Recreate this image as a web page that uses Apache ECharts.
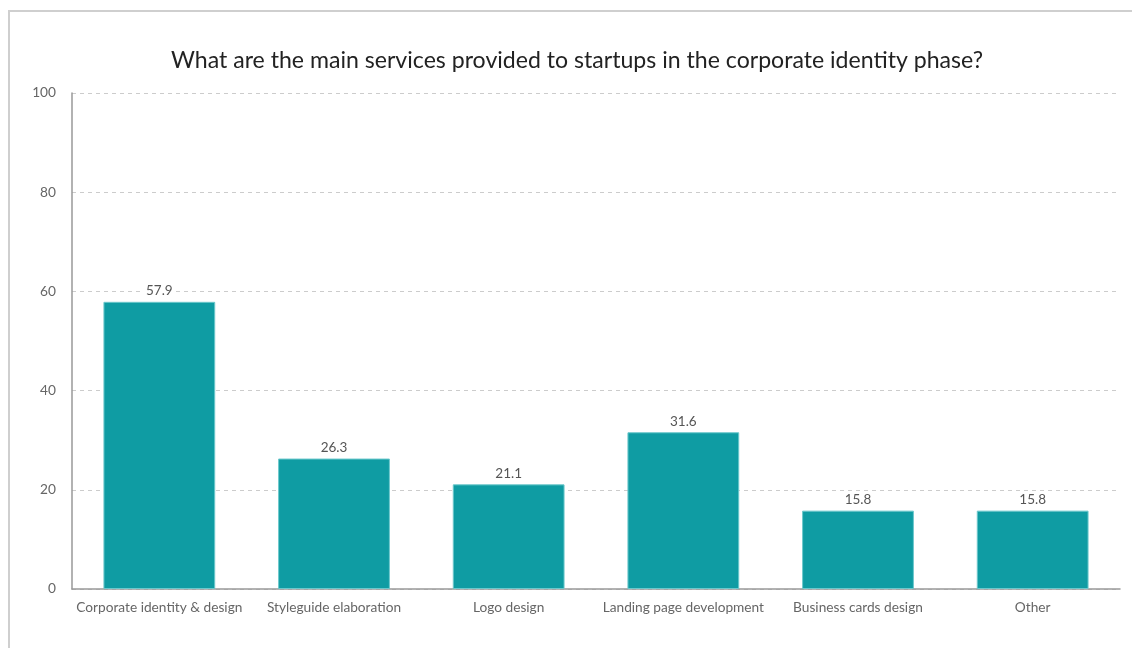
<!DOCTYPE html>
<html>
<head>
<meta charset="utf-8">
<script src="https://cdn.jsdelivr.net/npm/echarts@6/dist/echarts.min.js"></script>
<style>
  html, body { margin: 0; padding: 0; background: #fff; }
  #frame { position: absolute; left: 8px; top: 10px; width: 1140px; height: 660px;
           border: 2px solid #cfcfcf; box-sizing: border-box; }
  #chart { position: absolute; left: 0; top: 0; width: 1132px; height: 648px; }
</style>
</head>
<body>
<div id="frame"></div>
<div id="chart"></div>
<script>
const titleText = 'What are the main services provided to startups in the corporate identity phase?';
const categories = [
  'Corporate identity & design',
  'Styleguide elaboration',
  'Logo design',
  'Landing page development',
  'Business cards design',
  'Other'
];
const shares = [57.9, 26.3, 21.1, 31.6, 15.8, 15.8];
const yTicks = { min: 0, max: 100, step: 20 };

const chart = echarts.init(document.getElementById('chart'), null, { renderer: 'canvas' });
chart.setOption({
  animation: false,
  textStyle: { fontFamily: 'Lato, "Noto Sans", sans-serif' },
  title: {
    text: titleText,
    left: 572,
    textAlign: 'center',
    top: 44,
    textStyle: { fontFamily: 'Lato', fontSize: 23.1, fontWeight: 'normal', color: '#222' }
  },
  grid: { left: 72, right: 12, top: 93, bottom: 59, containLabel: false },
  xAxis: {
    type: 'category',
    data: categories,
    axisLine: { lineStyle: { color: '#999', width: 1.5 } },
    axisTick: { show: false },
    axisLabel: { color: '#666', fontSize: 13.7, margin: 12, interval: 0 }
  },
  yAxis: {
    type: 'value',
    min: yTicks.min,
    max: yTicks.max,
    interval: yTicks.step,
    axisLine: { show: true, lineStyle: { color: '#999', width: 1.5 } },
    axisTick: { show: false },
    axisLabel: { color: '#666', fontSize: 13.7, margin: 16 },
    splitLine: { lineStyle: { color: '#ccc', type: [4, 4], width: 1 } }
  },
  series: [{
    type: 'bar',
    data: shares,
    barWidth: '64%',
    itemStyle: { color: '#0f9ca3', borderColor: '#6cc8cc', borderWidth: 1 },
    label: {
      show: true,
      position: 'top',
      distance: 4,
      color: '#555',
      fontSize: 13.5,
      backgroundColor: '#fff',
      padding: [0, 2]
    }
  }]
});
</script>
</body>
</html>
